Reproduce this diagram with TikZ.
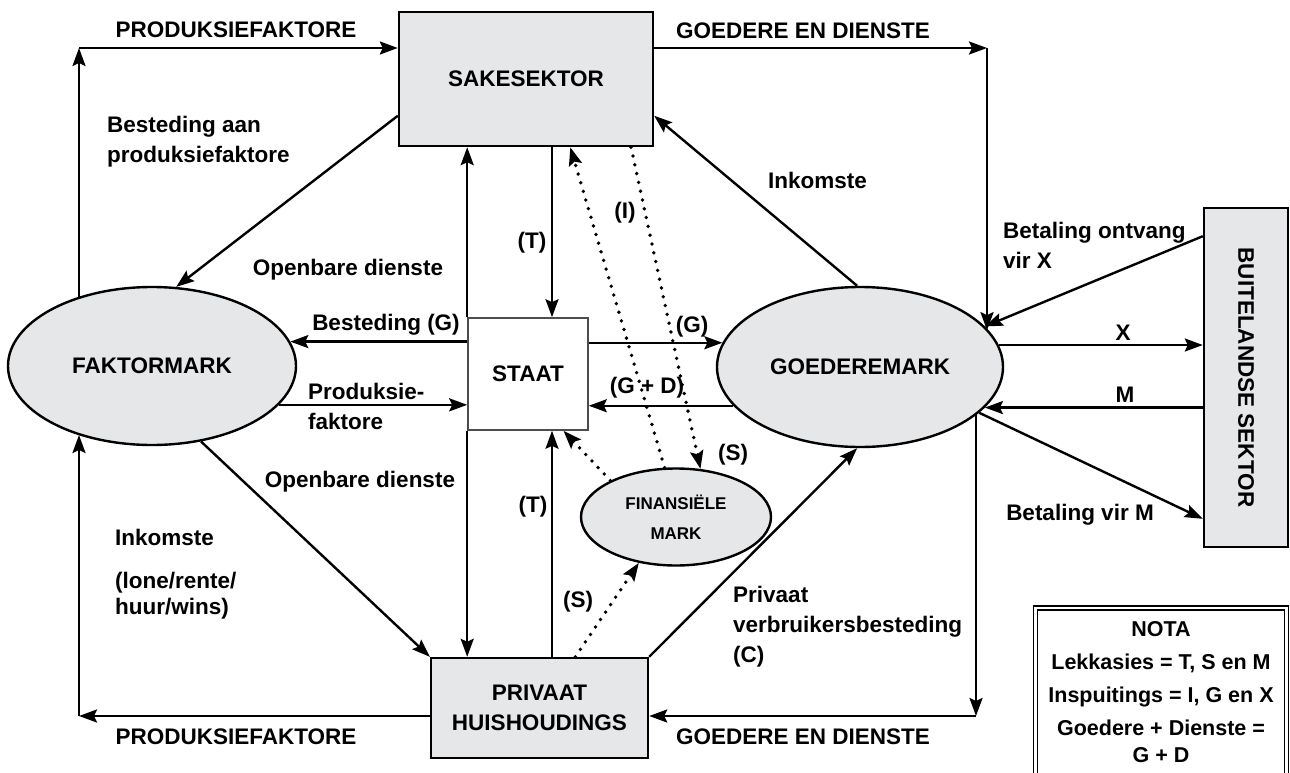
\documentclass[tikz,border=0pt]{standalone}
\usepackage{fontspec}
\setmainfont{Liberation Sans}
\usetikzlibrary{arrows.meta,shapes.geometric}
\definecolor{boxgray}{RGB}{230,231,232}
\begin{document}
\begin{tikzpicture}[x=1pt,y=-1pt,
  every node/.style={font=\bfseries\fontsize{22.5}{30}\selectfont, inner sep=0pt},
  arr/.style={-{Stealth[length=18pt,width=13pt,inset=3pt]}, line width=2.4pt},
  dots/.style={-{Stealth[length=18pt,width=13pt,inset=3pt]}, line width=3.8pt, line cap=round, dash pattern=on 0pt off 9pt},
  grayrect/.style={draw, line width=2.4pt, fill=boxgray, rectangle},
  grayell/.style={draw, line width=2.4pt, fill=boxgray, ellipse},
  lblw/.style={anchor=west, align=left},
]
\useasboundingbox (0,0) rectangle (1290,773);
\fill[white] (0,0) rectangle (1290,773);

% main nodes
\node[grayrect, minimum width=254pt, minimum height=134pt] (sake) at (526,79) {SAKESEKTOR};
\node[draw=black!70, line width=1.6pt, fill=white, minimum width=120pt, minimum height=112pt] (staat) at (528,374) {STAAT};
\node[grayrect, minimum width=217pt, minimum height=100pt, align=center] (priv) at (539.5,708) {PRIVAAT\\HUISHOUDINGS};
\node[grayell, minimum width=288pt, minimum height=158pt] (fak) at (152,366) {FAKTORMARK};
\node[grayell, minimum width=286pt, minimum height=160pt] (goed) at (860,367) {GOEDEREMARK};
\node[grayell, minimum width=190pt, minimum height=97pt, align=center, font=\bfseries\fontsize{17}{30}\selectfont] (fin) at (676,517) {FINANSIËLE\\MARK};
\node[grayrect, minimum width=84pt, minimum height=339pt] (buit) at (1246,377.5) {};
\node[rotate=-90] (buitlbl) at (buit.center) {BUITELANDSE SEKTOR};

% nota box
\node[draw, double, double distance=2.5pt, line width=1.3pt, fill=white, minimum width=251pt, minimum height=190pt] (nota) at (1161,703) {};
\node[anchor=north, align=center, font=\bfseries\fontsize{21.5}{33}\selectfont] (notatext) at (1161,621) {NOTA\\Lekkasies = T, S en M\\Inspuitings = I, G en X\\Goedere + Dienste =\\[-6pt]G + D};

% helper coordinates
\coordinate (c1) at (79,48);
\coordinate (c2) at (987,48);
\coordinate (c3) at (976,716);
\coordinate (c4) at (79,716);
\coordinate (t1) at (552,0);

% connectors
\draw[arr] (c1 |- fak.137) -- (c1);
\draw[arr] (c1) -- (c1 -| sake.west);
\draw[arr] (sake.196) -- (fak.73);
\draw[arr] (c2 -| sake.east) -- (c2);
\draw[arr] (c2) -- (c2 |- goed.16);
\draw[arr] (goed.92) -- (sake.-16);
\draw[arr] (staat.north west) -- (staat.north west |- sake.south);
\draw[arr] (sake.south -| t1) -- (staat.north -| t1);
\draw[arr] (staat.south west) -- (staat.south west |- priv.north);
\draw[arr] (priv.north -| t1) -- (staat.south -| t1);
\draw[arr] (fak.10 -| staat.west) -- (fak.10);
\draw[arr] (fak.-17) -- (fak.-17 -| staat.west);
\draw[arr] (goed.170 -| staat.east) -- (goed.170);
\draw[arr] (goed.197) -- (goed.197 -| staat.east);
\draw[arr] (fak.-57) -- (priv.north west);
\draw[arr] (priv.north east) -- (goed.-92);
\draw[arr] (c3 |- goed.-22) -- (c3);
\draw[arr] (c3) -- (c3 -| priv.east);
\draw[arr] (c4 -| priv.west) -- (c4);
\draw[arr] (c4) -- (c4 |- fak.223);
\draw[arr] (buit.107) -- (goed.18);
\draw[arr] (goed.9) -- (goed.9 -| buit.west);
\draw[arr] (goed.-18 -| buit.west) -- (goed.-18);
\draw[arr] (goed.-21) -- (buit.253);

% dotted connectors
\draw[dots] (fin.103) -- (sake.-57);
\draw[dots] (sake.-33) -- (fin.63);
\draw[dots] (fin.151) -- (staat.-58);
\draw[dots] (priv.55) -- (fin.231);

% labels
\node (lPFtop) at (236,30) {PRODUKSIEFAKTORE};
\node (lPFbot) at (236,737) {PRODUKSIEFAKTORE};
\node (lGDtop) at (803,31) {GOEDERE EN DIENSTE};
\node (lGDbot) at (803,737) {GOEDERE EN DIENSTE};
\node[lblw] (lBap) at (107,142) {Besteding aan\\produksiefaktore};
\node (lOD1) at (348,270) {Openbare dienste};
\node (lOD2) at (360,482) {Openbare dienste};
\node[anchor=west] (lInk1) at (768,180) {Inkomste};
\node (lT1) at (532,243) {(T)};
\node (lI) at (625,213) {(I)};
\node (lBG) at (386,325) {Besteding (G)};
\node[lblw] (lPr) at (308,406) {Produksie-\\faktore};
\node (lG) at (692,327) {(G)};
\node (lGD) at (647,388) {(G + D)};
\node (lS1) at (733,455) {(S)};
\node (lS2) at (578,602) {(S)};
\node (lT2) at (533,507) {(T)};
\node[anchor=west] (lInk2) at (115,537) {Inkomste};
\node[lblw, font=\bfseries\fontsize{22.5}{26}\selectfont] (lLone) at (115,596) {(lone/rente/\\huur/wins)};
\node[lblw] (lPriv) at (733,627) {Privaat\\verbruikersbesteding\\(C)};
\node[lblw] (lBX) at (1003,245) {Betaling ontvang\\vir X};
\node (lX) at (1123,333) {X};
\node (lM) at (1125,395) {M};
\node (lBM) at (1080,515) {Betaling vir M};
\end{tikzpicture}
\end{document}
